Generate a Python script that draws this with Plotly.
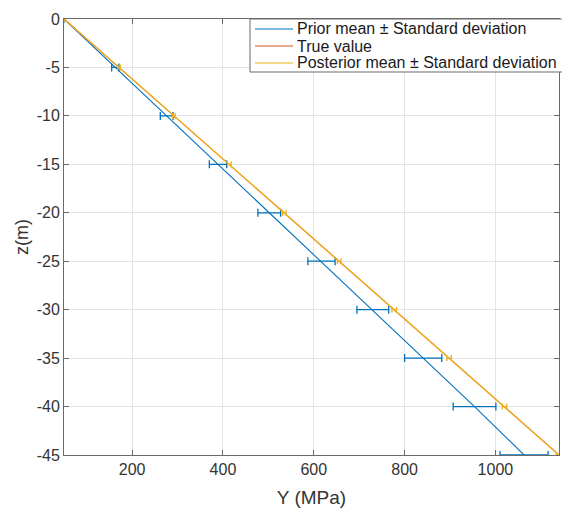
import plotly.graph_objects as go

# ---- data ----
depth = [0, -5, -10, -15, -20, -25, -30, -35, -40, -45]
prior_mean = [50, 163, 276, 389, 502, 617, 730, 841, 954, 1063]
prior_std = [0, 8, 14, 19, 25, 30, 35, 41, 47, 53]
true_value = [50, 171, 292, 413, 534, 656, 777, 898, 1019, 1140]
post_mean = [50, 171, 292, 414, 535, 656, 777, 898, 1020, 1140]
post_std = [0, 3, 3, 4, 4, 4, 5, 5, 5, 6]

series_names = ["Prior mean \u00b1 Standard deviation", "True value",
                "Posterior mean \u00b1 Standard deviation"]

x_ticks = [200, 400, 600, 800, 1000]
y_ticks = [0, -5, -10, -15, -20, -25, -30, -35, -40, -45]
y_ticktext = ["0", "-5", "-10", "-15", "-20", "-25", "-30", "-35", "-40", "-45"]

BLUE = "#0072BD"
RED = "#D95319"
ORANGE = "#EDB120"
colors = [BLUE, RED, ORANGE]
AX = "#6a6a6a"
GRID = "#e4e4e4"
TXT = "#333333"
FONT = "Liberation Sans, Arial, sans-serif"

W, H = 562, 508
ML, MR, MT, MB = 64, 3, 19, 53
PW, PH = W - ML - MR, H - MT - MB
LW = 1.1

fig = go.Figure()
fig.add_trace(go.Scatter(
    x=prior_mean, y=depth, mode="lines", name=series_names[0],
    line=dict(color=BLUE, width=LW),
    error_x=dict(type="data", array=prior_std, visible=True, color=BLUE, thickness=1.3, width=4),
))
fig.add_trace(go.Scatter(
    x=true_value, y=depth, mode="lines", name=series_names[1],
    line=dict(color=RED, width=LW),
))
fig.add_trace(go.Scatter(
    x=post_mean, y=depth, mode="lines", name=series_names[2],
    line=dict(color=ORANGE, width=LW + 0.2),
    error_x=dict(type="data", array=post_std, visible=True, color=ORANGE, thickness=1.3, width=3),
))

# ---- MATLAB-style compact legend box (paper coordinates) ----
def px_x(p):
    return (p - ML) / PW

def px_y(p):
    return (H - MB - p) / PH

shapes = [dict(type="rect", xref="paper", yref="paper",
               x0=px_x(250), x1=px_x(575), y0=px_y(72), y1=px_y(19),
               line=dict(color=AX, width=1), fillcolor="white", layer="above")]
annotations = []
row_y = [29, 46, 63]
for name, col, ry in zip(series_names, colors, row_y):
    shapes.append(dict(type="line", xref="paper", yref="paper",
                       x0=px_x(255), x1=px_x(293), y0=px_y(ry), y1=px_y(ry),
                       line=dict(color=col, width=LW), layer="above"))
    annotations.append(dict(xref="paper", yref="paper", x=px_x(295), y=px_y(ry),
                            xanchor="left", yanchor="middle", showarrow=False,
                            text=name, font=dict(family=FONT, size=16, color="#1a1a1a")))

fig.update_layout(
    width=W, height=H,
    margin=dict(l=ML, r=MR, t=MT, b=MB, autoexpand=False),
    paper_bgcolor="white", plot_bgcolor="white",
    font=dict(family=FONT, size=15, color=TXT),
    showlegend=False,
    shapes=shapes, annotations=annotations,
    xaxis=dict(
        range=[50, 1140], tickvals=x_ticks, automargin=False,
        showgrid=True, gridcolor=GRID, gridwidth=1,
        showline=True, linecolor=AX, linewidth=1, mirror="ticks",
        ticks="inside", ticklen=5, tickcolor=AX,
        tickfont=dict(size=16, color=TXT),
        title=dict(text="Y (MPa)", font=dict(size=19, color=TXT)),
        zeroline=False,
    ),
    yaxis=dict(
        range=[-45, 0], tickvals=y_ticks, ticktext=y_ticktext, automargin=False,
        showgrid=True, gridcolor=GRID, gridwidth=1,
        showline=True, linecolor=AX, linewidth=1, mirror="ticks",
        ticks="inside", ticklen=5, tickcolor=AX,
        tickfont=dict(size=16, color=TXT),
        title=dict(text="z(m)", font=dict(size=18, color=TXT), standoff=3),
        zeroline=False,
    ),
)

fig.write_html(
    "out.html",
    config={"displayModeBar": False},
    post_script="document.body.style.margin='0';document.body.style.overflow='hidden';",
)
